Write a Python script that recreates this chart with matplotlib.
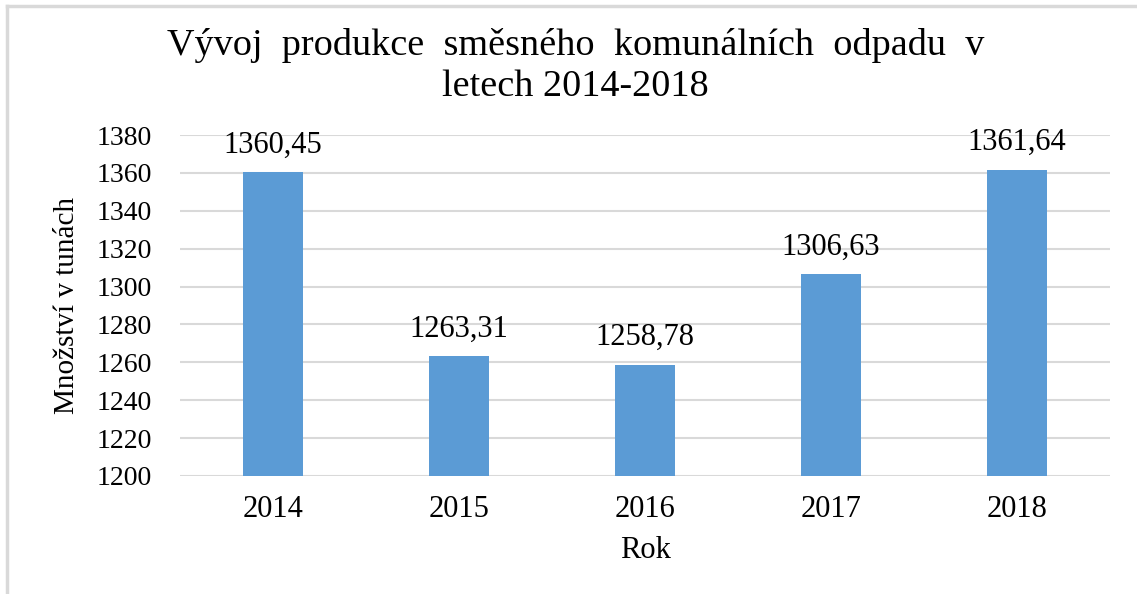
#!/usr/bin/env python3

import matplotlib

matplotlib.use("Agg")
import matplotlib.pyplot as plt
from matplotlib.lines import Line2D

years = ["2014", "2015", "2016", "2017", "2018"]
amounts = [1360.45, 1263.31, 1258.78, 1306.63, 1361.64]
y_ticks = [1200, 1220, 1240, 1260, 1280, 1300, 1320, 1340, 1360, 1380]

BAR_COLOR = "#5B9BD5"
GRID_COLOR = "#d9d9d9"

plt.rcParams["font.family"] = ["Liberation Serif", "DejaVu Serif"]


def main():
    fig = plt.figure(figsize=(11.37, 5.94), dpi=100)
    ax = fig.add_axes([0.1583, 0.1987, 0.8180, 0.5740])

    x_positions = list(range(len(years)))
    bars = ax.bar(x_positions, amounts, width=0.32, color=BAR_COLOR, zorder=3)

    ax.set_ylim(y_ticks[0], y_ticks[-1])
    ax.set_xlim(-0.5, len(years) - 0.5)
    ax.set_yticks(y_ticks)
    ax.set_xticks(x_positions)
    ax.set_xticklabels(years)

    ax.grid(True, axis="y", color=GRID_COLOR, linewidth=1.5, zorder=0)
    ax.set_axisbelow(True)
    for spine in ax.spines.values():
        spine.set_visible(False)

    ax.tick_params(axis="y", length=0, pad=20, labelsize=20)
    ax.tick_params(axis="x", length=0, pad=14, labelsize=22)

    labels = [f"{v:.2f}".replace(".", ",") for v in amounts]
    ax.bar_label(bars, labels=labels, padding=9, fontsize=22)

    ax.set_xlabel("Rok", fontsize=22, labelpad=8)
    ax.set_ylabel("Množství v tunách", fontsize=21, labelpad=12)

    fig.text(
        0.506,
        0.889,
        "Vývoj  produkce  směsného  komunálních  odpadu  v\nletech 2014-2018",
        ha="center",
        va="center",
        fontsize=27.5,
        linespacing=1.25,
    )

    # thin gray frame on the top and left edge, as in the source image
    fig.add_artist(Line2D([0.006, 1.0], [0.99, 0.99], transform=fig.transFigure,
                          color=GRID_COLOR, linewidth=2.5))
    fig.add_artist(Line2D([0.006, 0.006], [0.0, 0.99], transform=fig.transFigure,
                          color=GRID_COLOR, linewidth=2.5))

    fig.savefig("out.png", dpi=100, facecolor="white")


if __name__ == "__main__":
    main()
